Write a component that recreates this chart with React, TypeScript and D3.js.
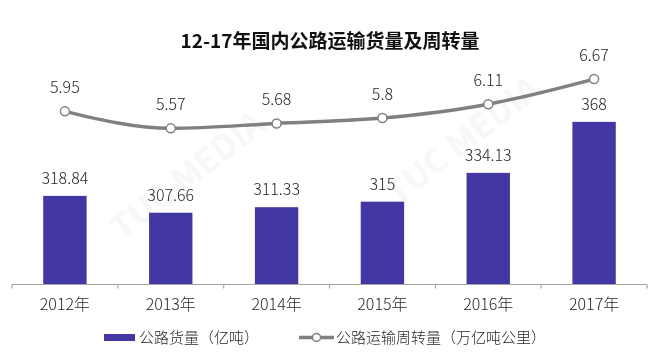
import { useEffect, useRef } from 'react';
import * as d3 from 'd3';

// Chart data
const years = ['2012年', '2013年', '2014年', '2015年', '2016年', '2017年'];
const freightVolume = [318.84, 307.66, 311.33, 315, 334.13, 368];
const freightTurnover = [5.95, 5.57, 5.68, 5.8, 6.11, 6.67];
const volumeLabels = ['318.84', '307.66', '311.33', '315', '334.13', '368'];
const turnoverLabels = ['5.95', '5.57', '5.68', '5.8', '6.11', '6.67'];

const title = '12-17年国内公路运输货量及周转量';
const legendBar = '公路货量（亿吨）';
const legendLine = '公路运输周转量（万亿吨公里）';

const width = 668;
const height = 363;
const font = '"Noto Sans CJK SC", "Noto Sans", sans-serif';

export default function App() {
    const svgRef = useRef<SVGSVGElement>(null);

    useEffect(() => {
        if (!svgRef.current) return;
        const svg = d3.select(svgRef.current);
        svg.selectAll('*').remove();

        const barColor = '#4338a3';
        const lineColor = '#808080';
        const textColor = '#262626';
        const axisY = 284.5;

        // Scales
        const x = d3.scaleBand<string>().domain(years).range([12, 647]).paddingInner(0.59).paddingOuter(0.295);
        const step = x.step();
        const xCenter = (d: string) => (x(d) as number) + x.bandwidth() / 2;

        const yBar = d3.scaleLinear().domain([260, 400]).range([axisY, axisY - 140 * 1.506]);
        const yLine = d3.scaleLinear().domain([5, 7]).range([153.9, 64.3]);

        // Watermark
        const wm = svg.append('g').attr('opacity', 0.07);
        [[195, 185], [470, 150]].forEach(([wx, wy]) => {
            wm.append('text')
                .attr('transform', `translate(${wx},${wy}) rotate(-38)`)
                .attr('text-anchor', 'middle')
                .attr('font-family', font)
                .attr('font-size', 34)
                .attr('font-weight', 'bold')
                .attr('fill', '#888')
                .text('TUC MEDIA');
        });

        // Title
        svg.append('text')
            .attr('x', 330)
            .attr('y', 48)
            .attr('text-anchor', 'middle')
            .attr('font-family', font)
            .attr('font-size', 19)
            .attr('font-weight', 'bold')
            .attr('fill', '#111')
            .text(title);

        // Bars
        svg.append('g')
            .selectAll('rect')
            .data(freightVolume)
            .enter()
            .append('rect')
            .attr('x', (_, i) => x(years[i]) as number)
            .attr('y', (d) => yBar(d))
            .attr('width', x.bandwidth())
            .attr('height', (d) => axisY - yBar(d))
            .attr('fill', barColor);

        svg.append('g')
            .selectAll('text')
            .data(freightVolume)
            .enter()
            .append('text')
            .attr('x', (_, i) => xCenter(years[i]))
            .attr('y', (d) => yBar(d) - 12)
            .attr('text-anchor', 'middle')
            .attr('font-family', font)
            .attr('font-size', 16)
            .attr('font-weight', 300)
            .attr('fill', textColor)
            .text((_, i) => volumeLabels[i]);

        // X axis
        const axis = svg.append('g');
        axis.append('line')
            .attr('x1', 12)
            .attr('x2', 647)
            .attr('y1', axisY)
            .attr('y2', axisY)
            .attr('stroke', '#a6a6a6')
            .attr('stroke-width', 1.2);
        d3.range(years.length + 1).forEach((i) => {
            const tx = 12 + i * step;
            axis.append('line')
                .attr('x1', tx)
                .attr('x2', tx)
                .attr('y1', axisY)
                .attr('y2', axisY + 4)
                .attr('stroke', '#a6a6a6')
                .attr('stroke-width', 1.2);
        });
        axis.selectAll('text.year')
            .data(years)
            .enter()
            .append('text')
            .attr('class', 'year')
            .attr('x', (d) => xCenter(d))
            .attr('y', 310)
            .attr('text-anchor', 'middle')
            .attr('font-family', font)
            .attr('font-size', 16)
            .attr('font-weight', 300)
            .attr('fill', textColor)
            .text((d) => d);

        // Line
        const line = d3
            .line<number>()
            .x((_, i) => xCenter(years[i]))
            .y((d) => yLine(d))
            .curve(d3.curveMonotoneX);

        svg.append('path')
            .datum(freightTurnover)
            .attr('fill', 'none')
            .attr('stroke', lineColor)
            .attr('stroke-width', 3.5)
            .attr('d', line);

        svg.append('g')
            .selectAll('circle')
            .data(freightTurnover)
            .enter()
            .append('circle')
            .attr('cx', (_, i) => xCenter(years[i]))
            .attr('cy', (d) => yLine(d))
            .attr('r', 4.5)
            .attr('fill', '#fff')
            .attr('stroke', lineColor)
            .attr('stroke-width', 1.5);

        svg.append('g')
            .selectAll('text')
            .data(freightTurnover)
            .enter()
            .append('text')
            .attr('x', (_, i) => xCenter(years[i]))
            .attr('y', (d) => yLine(d) - 18.5)
            .attr('text-anchor', 'middle')
            .attr('font-family', font)
            .attr('font-size', 16)
            .attr('font-weight', 300)
            .attr('fill', textColor)
            .text((_, i) => turnoverLabels[i]);

        // Legend
        const legend = svg.append('g');
        legend.append('rect').attr('x', 104).attr('y', 334).attr('width', 31).attr('height', 7).attr('fill', barColor);
        legend.append('text')
            .attr('x', 139)
            .attr('y', 343)
            .attr('font-family', font)
            .attr('font-size', 15)
            .attr('font-weight', 300)
            .attr('fill', textColor)
            .text(legendBar);
        legend.append('line')
            .attr('x1', 299)
            .attr('x2', 334)
            .attr('y1', 337.5)
            .attr('y2', 337.5)
            .attr('stroke', lineColor)
            .attr('stroke-width', 3.5);
        legend.append('circle')
            .attr('cx', 316.5)
            .attr('cy', 337.5)
            .attr('r', 4)
            .attr('fill', '#fff')
            .attr('stroke', lineColor)
            .attr('stroke-width', 1.5);
        legend.append('text')
            .attr('x', 336)
            .attr('y', 343)
            .attr('font-family', font)
            .attr('font-size', 15)
            .attr('font-weight', 300)
            .attr('fill', textColor)
            .text(legendLine);
    }, []);

    return (
        <div style={{ position: 'absolute', left: 0, top: 0, width, height, background: '#fff' }}>
            <svg ref={svgRef} width={width} height={height} style={{ display: 'block' }} />
        </div>
    );
}
